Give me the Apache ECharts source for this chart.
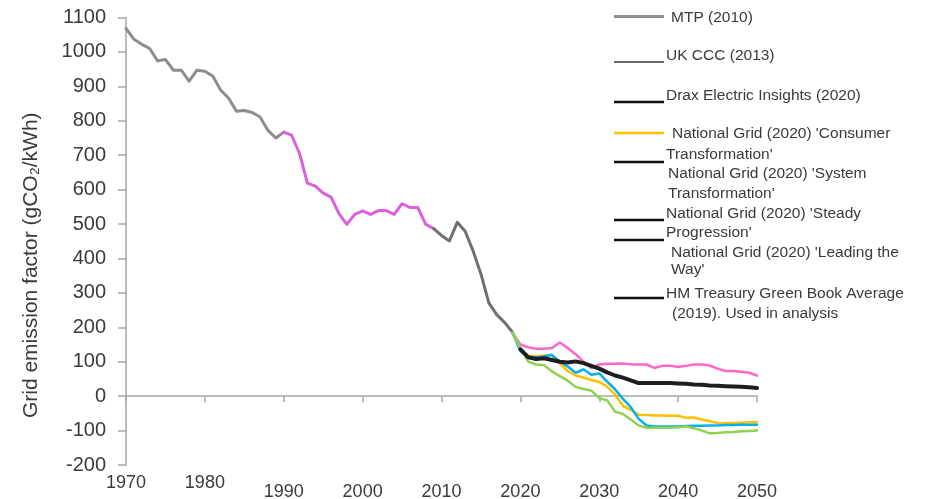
<!DOCTYPE html>
<html>
<head>
<meta charset="utf-8">
<script src="https://cdn.jsdelivr.net/npm/echarts@6/dist/echarts.min.js"></script>
<style>
  html, body { margin: 0; padding: 0; background: #ffffff; }
  #chart { width: 926px; height: 499px; }
</style>
</head>
<body>
<div id="chart"></div>
<script>
// Grid emission factor, gCO2/kWh, one value per year from the given start year.
const mtpStart = 1970;
const mtp2010 = [1068, 1037, 1022, 1010, 974, 978, 947, 947, 915, 947, 944, 930, 889, 866, 828, 830, 824, 811, 772, 750, 767];

const cccStart = 1990;
const ukCcc2013 = [767, 758, 705, 619, 610, 590, 578, 530, 499, 528, 538, 528, 539, 539, 528, 559, 548, 548, 499, 487];

const draxStart = 2009;
const drax2020 = [487, 467, 451, 505, 479, 422, 355, 271, 237, 214, 186];

const fesStart = 2019;
const consumerTransformation = [184, 138, 117, 115, 118, 118, 95, 73, 60, 54, 47, 41, 28, 5, -28, -40, -54, -55, -56, -56, -57, -57, -63, -62, -68, -73, -78, -79, -78, -77, -76, -76];
const systemTransformation = [184, 132, 114, 112, 115, 120, 100, 86, 68, 78, 62, 66, 42, 20, -8, -32, -66, -85, -88, -88, -88, -88, -87, -86, -86, -85, -85, -84, -84, -83, -83, -83];
const steadyProgression = [184, 150, 142, 138, 138, 140, 156, 140, 122, 100, 82, 92, 94, 94, 95, 93, 92, 92, 82, 88, 88, 85, 88, 92, 92, 89, 80, 73, 73, 71, 68, 60];
const leadingTheWay = [184, 140, 100, 92, 90, 72, 58, 45, 27, 21, 16, -6, -12, -45, -52, -68, -85, -92, -92, -92, -92, -90, -88, -93, -100, -108, -107, -105, -104, -102, -101, -100];

const treasuryStart = 2020;
const greenBookAverage = [136, 113, 108, 110, 105, 100, 98, 101, 96, 88, 80, 69, 60, 54, 46, 38, 38, 38, 38, 38, 37, 36, 34, 33, 31, 30, 29, 28, 27, 26, 24];

// Axis ticks
const yearTicks = { min: 1970, max: 2050, step: 10 };
const factorTicks = { min: -200, max: 1100, step: 100 };
const raisedYearLabels = [1970, 1980];

const names = {
  mtp: 'MTP (2010)',
  ccc: 'UK CCC (2013)',
  drax: 'Drax Electric Insights (2020)',
  ct: "National Grid (2020) 'Consumer Transformation'",
  st: "National Grid (2020) 'System Transformation'",
  sp: "National Grid (2020) 'Steady Progression'",
  ltw: "National Grid (2020) 'Leading the Way'",
  hm: 'HM Treasury Green Book Average (2019). Used in analysis'
};

function yearPairs(start, values) {
  return values.map((v, i) => [start + i, v]);
}

const FONT = "'Liberation Sans', Arial, sans-serif";
const TEXT = '#3a3a3a';
const AXIS = '#a6a6a6';

function lineSeries(name, start, values, color, width, z) {
  return {
    name: name,
    type: 'line',
    data: yearPairs(start, values),
    showSymbol: false,
    symbol: 'none',
    z: z,
    lineStyle: { color: color, width: width, cap: 'round', join: 'round' },
    itemStyle: { color: color },
    emphasis: { disabled: true },
    animation: false
  };
}

// Legend block on the right: key line plus wrapped text rows.
const legendRows = [
  { key: '#8d8d8d', w: 3,   ky: 16.5, text: [['MTP (2010)', 671, 18]] },
  { key: '#333333', w: 1.5, ky: 62,   text: [['UK CCC (2013)', 666, 56]] },
  { key: '#111111', w: 2.5, ky: 102,  text: [['Drax Electric Insights (2020)', 666, 96]] },
  { key: '#ffc000', w: 2.5, ky: 133,  text: [["National Grid (2020) 'Consumer", 672, 134], ["Transformation'", 666, 154.5]] },
  { key: '#111111', w: 2.5, ky: 162,  text: [["National Grid (2020) 'System", 668, 174], ["Transformation'", 668, 193.5]] },
  { key: '#111111', w: 2.5, ky: 220,  text: [["National Grid (2020) 'Steady", 666, 213.5], ["Progression'", 666, 233]] },
  { key: '#111111', w: 2.5, ky: 240,  text: [["National Grid (2020) 'Leading the", 671, 253], ["Way'", 671, 270]] },
  { key: '#111111', w: 2.5, ky: 298,  text: [['HM Treasury Green Book Average', 666, 294], ['(2019). Used in analysis', 672, 314]] }
];

const legendGraphics = [];
legendRows.forEach(row => {
  legendGraphics.push({
    type: 'line',
    shape: { x1: 614, y1: row.ky, x2: 664, y2: row.ky },
    style: { stroke: row.key, lineWidth: row.w },
    silent: true
  });
  row.text.forEach(t => {
    legendGraphics.push({
      type: 'text',
      x: t[1],
      y: t[2],
      style: {
        text: t[0],
        fill: TEXT,
        fontSize: 15.5,
        fontFamily: FONT,
        verticalAlign: 'middle',
        align: 'left'
      },
      silent: true
    });
  });
});

const chart = echarts.init(document.getElementById('chart'), null, { renderer: 'canvas' });

chart.setOption({
  animation: false,
  backgroundColor: '#ffffff',
  grid: { left: 126, right: 169, top: 17.5, bottom: 34, containLabel: false, outerBoundsMode: 'none' },
  xAxis: {
    type: 'value',
    min: yearTicks.min,
    max: yearTicks.max,
    interval: yearTicks.step,
    axisLine: { show: true, onZero: true, lineStyle: { color: AXIS, width: 1.5 } },
    axisTick: { show: true, inside: false, length: 6, lineStyle: { color: AXIS, width: 1.5 } },
    splitLine: { show: false },
    axisLabel: {
      margin: 9,
      color: TEXT,
      fontSize: 18,
      fontFamily: FONT,
      formatter: v => (raisedYearLabels.includes(v) ? '{up|' + v + '}' : '{dn|' + v + '}'),
      rich: {
        up: { fontSize: 18, fontFamily: FONT, color: TEXT },
        dn: { fontSize: 18, fontFamily: FONT, color: TEXT, padding: [9, 0, 0, 0] }
      }
    }
  },
  yAxis: {
    type: 'value',
    min: factorTicks.min,
    max: factorTicks.max,
    interval: factorTicks.step,
    axisLine: { show: true, lineStyle: { color: AXIS, width: 1.5 } },
    axisTick: { show: true, inside: false, length: 8, lineStyle: { color: AXIS, width: 1.5 } },
    splitLine: { show: false },
    axisLabel: { margin: 20, color: TEXT, fontSize: 20, fontFamily: FONT, formatter: v => String(v) },
    name: 'Grid emission factor (gCO₂/kWh)',
    nameLocation: 'middle',
    nameRotate: 90,
    nameGap: 84,
    nameTextStyle: { color: TEXT, fontSize: 21, fontFamily: FONT, padding: [0, 48, 0, 0] }
  },
  graphic: legendGraphics,
  series: [
    lineSeries(names.mtp, mtpStart, mtp2010, '#8d8d8d', 3, 2),
    lineSeries(names.ccc, cccStart, ukCcc2013, '#dc5fdc', 3, 2),
    lineSeries(names.drax, draxStart, drax2020, '#707070', 3, 2),
    lineSeries(names.sp, fesStart, steadyProgression, '#ff66cc', 2.5, 3),
    lineSeries(names.ct, fesStart, consumerTransformation, '#ffc000', 2.5, 3),
    lineSeries(names.st, fesStart, systemTransformation, '#00b0f0', 2.5, 3),
    lineSeries(names.ltw, fesStart, leadingTheWay, '#92d050', 2.5, 3),
    lineSeries(names.hm, treasuryStart, greenBookAverage, '#1e1e1e', 4, 4)
  ]
});
</script>
</body>
</html>
